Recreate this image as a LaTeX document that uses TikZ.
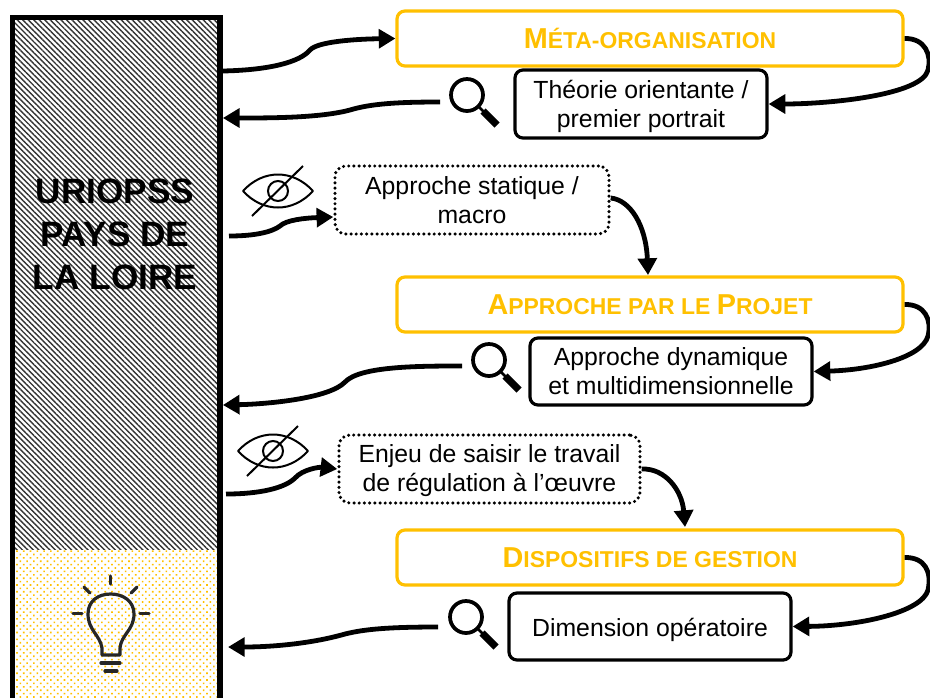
\documentclass[tikz,border=0pt]{standalone}
\usepackage{fontspec}
\setmainfont{Liberation Sans}
\usetikzlibrary{arrows.meta,patterns.meta}
\definecolor{gold}{HTML}{FFC000}
\definecolor{bulbdark}{HTML}{262626}
\newcommand{\capL}[1]{{\fontsize{21.6pt}{24pt}\selectfont #1}}
\newcommand{\capS}[1]{{\fontsize{17.2pt}{24pt}\selectfont #1}}
\newcommand{\lowered}[2]{\raisebox{-#1}[\height][\depth]{#2}}
\tikzset{
  conn/.style={line width=3.6pt,-{Triangle[length=12.5pt,width=14pt]},line cap=butt},
  roundbox/.style={draw=black,line width=2.4pt,rounded corners=6pt,fill=white,align=center,inner sep=0pt,font=\fontsize{18.6pt}{21.9pt}\selectfont},
  headbox/.style={draw=gold,line width=2.4pt,rounded corners=6pt,fill=white,align=center,inner sep=0pt,text=gold,font=\bfseries},
  dotbox/.style={draw=black,line width=2.6pt,line cap=round,dash pattern=on 0pt off 3.9pt,rounded corners=8pt,fill=white,align=center,inner sep=0pt,font=\fontsize{18.6pt}{21.9pt}\selectfont},
  magnifier/.pic={
    \draw[line width=2.8pt] (0,0) circle[radius=16];
    \draw[line width=2pt] (11,11) -- (17,17);
    \draw[line width=5.4pt] (16,16) -- (30,30);
  },
  crossedeye/.pic={
    \draw[line width=1.5pt,line join=round] (-35,0) .. controls (-15,-22) and (15,-22) .. (35,0) .. controls (15,22) and (-15,22) .. (-35,0) -- cycle;
    \draw[line width=1.5pt] (0,0) circle[radius=10];
    \draw[line width=1.5pt] (-26,25) -- (25,-25);
  },
}
\begin{document}
\begin{tikzpicture}[x=0.75pt,y=-0.75pt]
\useasboundingbox (0,0) rectangle (930,697);
\clip (0,0) rectangle (930,697);
% left column fills
\fill[pattern={Lines[angle=-45,distance=2.9pt,line width=1.05pt]},pattern color=black!80] (15,20) rectangle (218,549);
\fill[pattern={Dots[angle=45,distance=3.6pt,radius=0.85pt]},pattern color=gold] (15,549) rectangle (218,700);
\node[draw=black,line width=4.4pt,minimum width=207.5*0.75pt,minimum height=700*0.75pt,inner sep=0pt] (urio) at (116.2,367.5) {};
\node[align=center,font=\bfseries\fontsize{26.4pt}{32.3pt}\selectfont] (title) at (115,234.5) {URIOPSS\\PAYS DE\\LA LOIRE};
% bulb
\begin{scope}[draw=bulbdark,line width=2.4pt,line cap=round,line join=round]
\draw (102,655) -- (102,648) .. controls (100,635) and (88,630) .. (88,614) .. controls (88,601) and (98,594) .. (110.7,594) .. controls (123,594) and (134,601) .. (134,614) .. controls (134,630) and (121,635) .. (120,648) -- (120,655) -- cycle;
\draw (101,663) -- (120,663);
\draw (105,671) -- (117,671);
\draw (110.7,576) -- (110.7,584);
\draw (84,587) -- (90,593);
\draw (137,587) -- (131,593);
\draw (73,613.5) -- (82,613.5);
\draw (140,613.5) -- (149,613.5);
\end{scope}
% boxes
\node[headbox,minimum width=506*0.75pt,minimum height=55*0.75pt] (meta) at (650,38.5) {\capL{M}\capS{ÉTA-ORGANISATION}};
\node[roundbox,minimum width=252*0.75pt,minimum height=68*0.75pt] (theorie) at (641,104) {\lowered{1.9pt}{Théorie orientante /}\\\lowered{1.9pt}{premier portrait}};
\node[dotbox,minimum width=274*0.75pt,minimum height=68*0.75pt] (statique) at (472,200) {Approche statique /\\macro};
\node[headbox,minimum width=506*0.75pt,minimum height=55*0.75pt] (projet) at (650,304.5) {\capL{A}\capS{PPROCHE PAR LE }\capL{P}\capS{ROJET}};
\node[roundbox,minimum width=282*0.75pt,minimum height=67*0.75pt] (dynamique) at (671,371.5) {Approche dynamique\\et multidimensionnelle};
\node[dotbox,minimum width=301*0.75pt,minimum height=68*0.75pt] (enjeu) at (489.5,469) {\lowered{1.2pt}{Enjeu de saisir le travail}\\\lowered{1.2pt}{de régulation à l’œuvre}};
\node[headbox,minimum width=506*0.75pt,minimum height=55*0.75pt] (dispositifs) at (650,557.5) {\capL{D}\capS{ISPOSITIFS DE GESTION}};
\node[roundbox,minimum width=282*0.75pt,minimum height=67*0.75pt] (dimension) at (650,626.5) {\lowered{2.2pt}{Dimension opératoire}};
% icons
\pic at (467,95) {magnifier};
\pic at (489,360) {magnifier};
\pic at (466,617) {magnifier};
\pic at (278,191) {crossedeye};
\pic at (273,451) {crossedeye};
% free ends
\coordinate (m1) at (440,102);
\coordinate (m2) at (462,366);
\coordinate (m3) at (438,627);
\coordinate (e1) at (229,236);
\coordinate (e2) at (226,494);
\coordinate (a1) at (228,647);
\coordinate (y1) at (0,71);
\coordinate (y2) at (0,118);
\coordinate (y3) at (0,405);
% connectors
\draw[conn] (urio.east |- y1) .. controls (270,70) and (300,62) .. (310,50) .. controls (318,41) and (360,39) .. (meta.west);
\draw[conn] (meta.east) .. controls (925,38) and (932,55) .. (928,70) .. controls (922,95) and (830,104) .. (theorie.east);
\draw[conn] (m1) .. controls (395,102) and (370,104) .. (350,110) .. controls (320,118) and (270,118) .. (urio.east |- y2);
\draw[conn] (e1) .. controls (255,236) and (272,232) .. (280,226) .. controls (286,220) and (305,218) .. (statique.west |- 0,217);
\draw[conn] (statique.east |- 0,198) .. controls (630,200) and (646,225) .. (648,275);
\draw[conn] (projet.east) .. controls (925,304) and (932,320) .. (928,336) .. controls (922,358) and (870,370) .. (dynamique.east);
\draw[conn] (m2) .. controls (420,366) and (360,366) .. (345,382) .. controls (330,398) and (270,404) .. (urio.east |- y3);
\draw[conn] (e2) .. controls (260,494) and (285,488) .. (295,478) .. controls (303,469) and (320,467) .. (enjeu.west);
\draw[conn] (enjeu.east) .. controls (665,468) and (682,490) .. (685,527);
\draw[conn] (dispositifs.east) .. controls (925,557) and (932,572) .. (928,590) .. controls (922,612) and (860,626) .. (dimension.east);
\draw[conn] (m3) .. controls (390,627) and (365,629) .. (345,634) .. controls (310,644) and (270,647) .. (a1);
\end{tikzpicture}
\end{document}
